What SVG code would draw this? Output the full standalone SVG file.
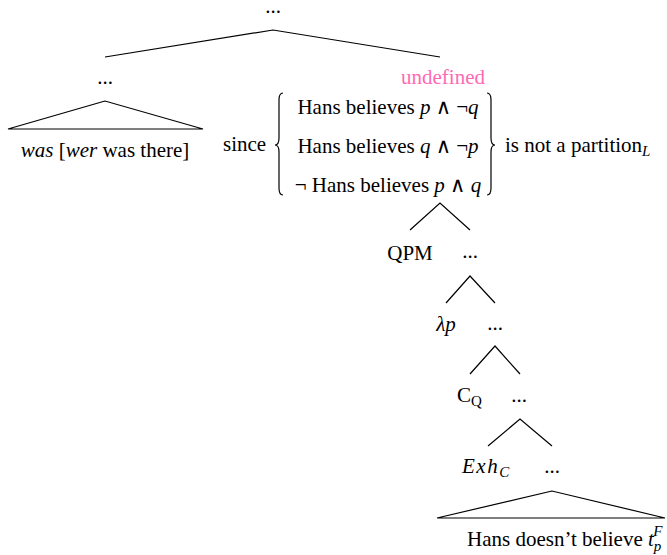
<svg xmlns="http://www.w3.org/2000/svg" width="667" height="555" viewBox="0 0 667 555">
<style>
text{font-family:"Liberation Serif","DejaVu Serif",serif;font-size:21px;fill:#000}
.c{text-anchor:middle}
.i{font-style:italic}
.sub{font-size:15px}
.pink{fill:#ff69b4}
.ln{stroke:#000;stroke-width:1.2;fill:none}
</style>
<rect width="667" height="555" fill="#fff"/>
<g id="connectors">
<polyline class="ln" points="105,57 273,30 440,57"/>
<polygon class="ln" points="105,101 8,129 203,129"/>
<polyline class="ln" points="410,230 440,203 470,230"/>
<polyline class="ln" points="446,303 470,276 495,303"/>
<polyline class="ln" points="470,374 495,346 520,374"/>
<polyline class="ln" points="488,446 520,419 552,446"/>
<polygon class="ln" points="552,491 437,518 665,518"/>
</g>
<g id="root"><text class="c" x="273" y="13">...</text></g>
<g id="left"><text class="c" x="105" y="84">...</text></g>
<g id="left-leaf"><text class="c" x="105" y="157"><tspan class="i">was</tspan> [<tspan class="i">wer</tspan> was there]</text></g>
<g id="right">
<text class="c pink" x="443" y="84">undefined</text>
<text x="223" y="151">since</text>
<path class="ln" d="M283,93 Q279,93 279,100 L279,138 Q279,145 275,145 Q279,145 279,152 L279,188 Q279,195 283,195"/>
<text class="c" x="388" y="114">Hans believes <tspan class="i">p</tspan> ∧ ¬<tspan class="i">q</tspan></text>
<text class="c" x="388" y="153">Hans believes <tspan class="i">q</tspan> ∧ ¬<tspan class="i">p</tspan></text>
<text class="c" x="388" y="192">¬ Hans believes <tspan class="i">p</tspan> ∧ <tspan class="i">q</tspan></text>
<path class="ln" d="M487,93 Q491,93 491,100 L491,138 Q491,145 495,145 Q491,145 491,152 L491,188 Q491,195 487,195"/>
<text x="505" y="152">is not a partition<tspan class="i sub" dy="4">L</tspan></text>
</g>
<g id="qpm"><text class="c" x="410" y="260">QPM</text></g>
<g id="n1"><text class="c" x="470" y="258">...</text></g>
<g id="lambda"><text class="c i" x="446" y="331">λp</text></g>
<g id="n2"><text class="c" x="495" y="330">...</text></g>
<g id="cq"><text x="457" y="402">C<tspan class="sub" dy="4">Q</tspan></text></g>
<g id="n3"><text class="c" x="519" y="402">...</text></g>
<g id="exh"><text x="462" y="473" class="i" letter-spacing="1.5">Exh<tspan class="sub" dy="4" letter-spacing="0">C</tspan></text></g>
<g id="n4"><text class="c" x="552" y="473">...</text></g>
<g id="leaf"><text x="467" y="546">Hans doesn’t believe <tspan class="i">t</tspan><tspan class="i sub" dy="5">p</tspan><tspan class="i sub" dx="-8" dy="-15">F</tspan></text></g>
</svg>
